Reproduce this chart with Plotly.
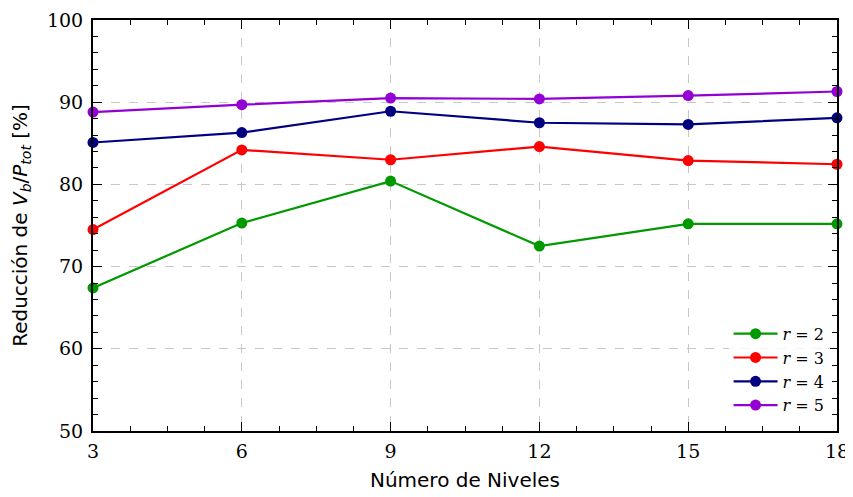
import plotly.graph_objects as go

niveles = [3, 6, 9, 12, 15, 18]
r2 = [67.4, 75.3, 80.4, 72.5, 75.2, 75.2]
r3 = [74.5, 84.2, 83.0, 84.6, 82.9, 82.45]
r4 = [85.1, 86.3, 88.9, 87.5, 87.3, 88.1]
r5 = [88.8, 89.7, 90.5, 90.4, 90.8, 91.3]
series = [("2", r2, "#009900"), ("3", r3, "#ff0000"), ("4", r4, "#000080"), ("5", r5, "#9400d3")]

SERIF = "DejaVu Serif"
SANS = "DejaVu Sans"

fig = go.Figure()
for name, vals, col in series:
    fig.add_trace(go.Scatter(
        x=niveles, y=vals, mode="lines+markers",
        name=f"<i>r</i> = {name}",
        line=dict(color=col, width=2.2),
        marker=dict(color=col, size=11),
        cliponaxis=False,
    ))

tickfont = dict(family=SERIF, size=19, color="black")
common = dict(
    showline=True, linecolor="black", linewidth=2, mirror="allticks",
    ticks="inside", ticklen=9, tickwidth=1.3, tickcolor="black",
    showgrid=True, gridcolor="#c8c8c8", griddash="dash", gridwidth=1,
    zeroline=False, tickfont=tickfont, automargin=False,
    ticklabeloverflow="allow",
)
fig.update_xaxes(
    range=[3, 18], tickvals=niveles, ticktext=[str(v) for v in niveles],
    minor=dict(dtick=0.75, tick0=3, ticks="inside", ticklen=5, tickwidth=1, tickcolor="black", showgrid=False),
    title=dict(text="Número de Niveles", font=dict(family=SANS, size=20, color="black"), standoff=12),
    ticklabelstandoff=2,
    **common,
)
fig.update_yaxes(
    range=[50, 100], tickvals=[50, 60, 70, 80, 90, 100],
    minor=dict(dtick=2, tick0=50, ticks="inside", ticklen=5, tickwidth=1, tickcolor="black", showgrid=False),
    title=dict(text="Reducción de <i>V<sub>b</sub></i>/<i>P<sub>tot</sub></i> [%]",
               font=dict(family=SANS, size=20, color="black"), standoff=20),
    ticklabelstandoff=4,
    **common,
)
fig.update_layout(
    width=845, height=489,
    margin=dict(l=85, r=16, t=12, b=66),
    plot_bgcolor="white", paper_bgcolor="white",
    showlegend=True,
    legend=dict(x=0.99, y=0.02, xanchor="right", yanchor="bottom",
                bgcolor="rgba(255,255,255,0.8)",
                font=dict(family=SERIF, size=16, color="black"),
                tracegroupgap=0, itemwidth=44),
)
fig.write_html("out.html")
